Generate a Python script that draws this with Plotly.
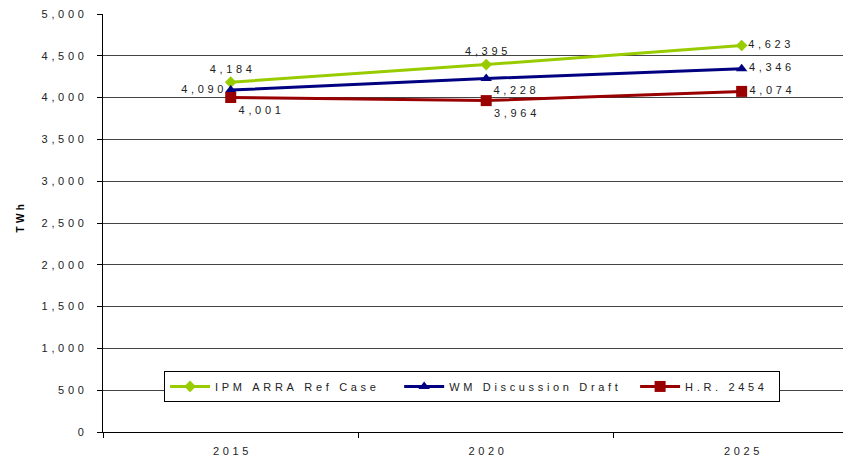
import plotly.graph_objects as go

# Data
YEARS = ["2015", "2020", "2025"]
IPM_ARRA = [4184, 4395, 4623]
WM_DRAFT = [4090, 4228, 4346]
HR_2454 = [4001, 3964, 4074]
Y_TICKS = [0, 500, 1000, 1500, 2000, 2500, 3000, 3500, 4000, 4500, 5000]

FONT_FAMILY = "Liberation Sans, Arial, sans-serif"
SP = "\u2005\u200a"
NBSP = "\u00a0"


def spaced(s):
    """Mimic the wide letter spacing of the original."""
    return SP.join(list(s))


def fmt(v):
    return spaced(f"{v:,}")


series = [
    ("IPM ARRA Ref Case", IPM_ARRA, "#99CC00", "diamond", 9, 6,
     ["top center", "top center", "middle right"]),
    ("WM Discussion Draft", WM_DRAFT, "#000080", "triangle-up", 10, 4,
     ["middle left", "bottom right", "middle right"]),
    ("H.R. 2454", HR_2454, "#990000", "square", 11, 3,
     ["bottom right", "bottom right", "middle right"]),
]

fig = go.Figure()
for name, vals, color, symbol, size, pad, pos in series:
    fig.add_trace(go.Scatter(
        x=YEARS,
        y=vals,
        name=spaced(name) + NBSP * pad,
        mode="lines+markers+text",
        line=dict(color=color, width=3),
        marker=dict(symbol=symbol, size=size, color=color),
        text=[fmt(v) for v in vals],
        textposition=pos,
        textfont=dict(size=11, color="#222222", family=FONT_FAMILY),
        cliponaxis=False,
    ))

fig.update_xaxes(
    type="category",
    range=[-0.5, 2.428],
    automargin=False,
    showline=True,
    linecolor="black",
    linewidth=1,
    ticks="outside",
    tickson="boundaries",
    ticklen=5,
    tickcolor="black",
    tickvals=YEARS,
    ticktext=[spaced(y) for y in YEARS],
    tickfont=dict(size=11, color="#222222"),
    ticklabelstandoff=9,
    showgrid=False,
)
fig.update_yaxes(
    range=[0, 5000],
    automargin=False,
    tickvals=Y_TICKS,
    ticktext=[fmt(v) for v in Y_TICKS],
    tickfont=dict(size=11, color="#222222"),
    ticklabeloverflow="allow",
    ticklabelstandoff=11,
    showline=True,
    linecolor="black",
    linewidth=1,
    ticks="outside",
    ticklen=5,
    tickcolor="black",
    showgrid=True,
    gridcolor="#444444",
    gridwidth=1,
    zeroline=False,
)

fig.add_annotation(
    text="<b>" + spaced("TWh") + "</b>",
    xref="paper", yref="paper",
    x=-0.12, y=0.51,
    textangle=-90,
    showarrow=False,
    font=dict(size=10, color="black"),
)

# page body adds an 8px offset, so margins are trimmed to compensate
fig.update_layout(
    width=851,
    height=459,
    margin=dict(l=95, r=8, t=6, b=35),
    plot_bgcolor="white",
    paper_bgcolor="white",
    font=dict(family=FONT_FAMILY),
    showlegend=True,
    legend=dict(
        orientation="h",
        x=0.0816,
        y=0.109,
        xanchor="left",
        yanchor="middle",
        bgcolor="white",
        bordercolor="black",
        borderwidth=1,
        itemwidth=40,
        font=dict(size=11, color="#222222"),
    ),
)

fig.write_html("out.html")
